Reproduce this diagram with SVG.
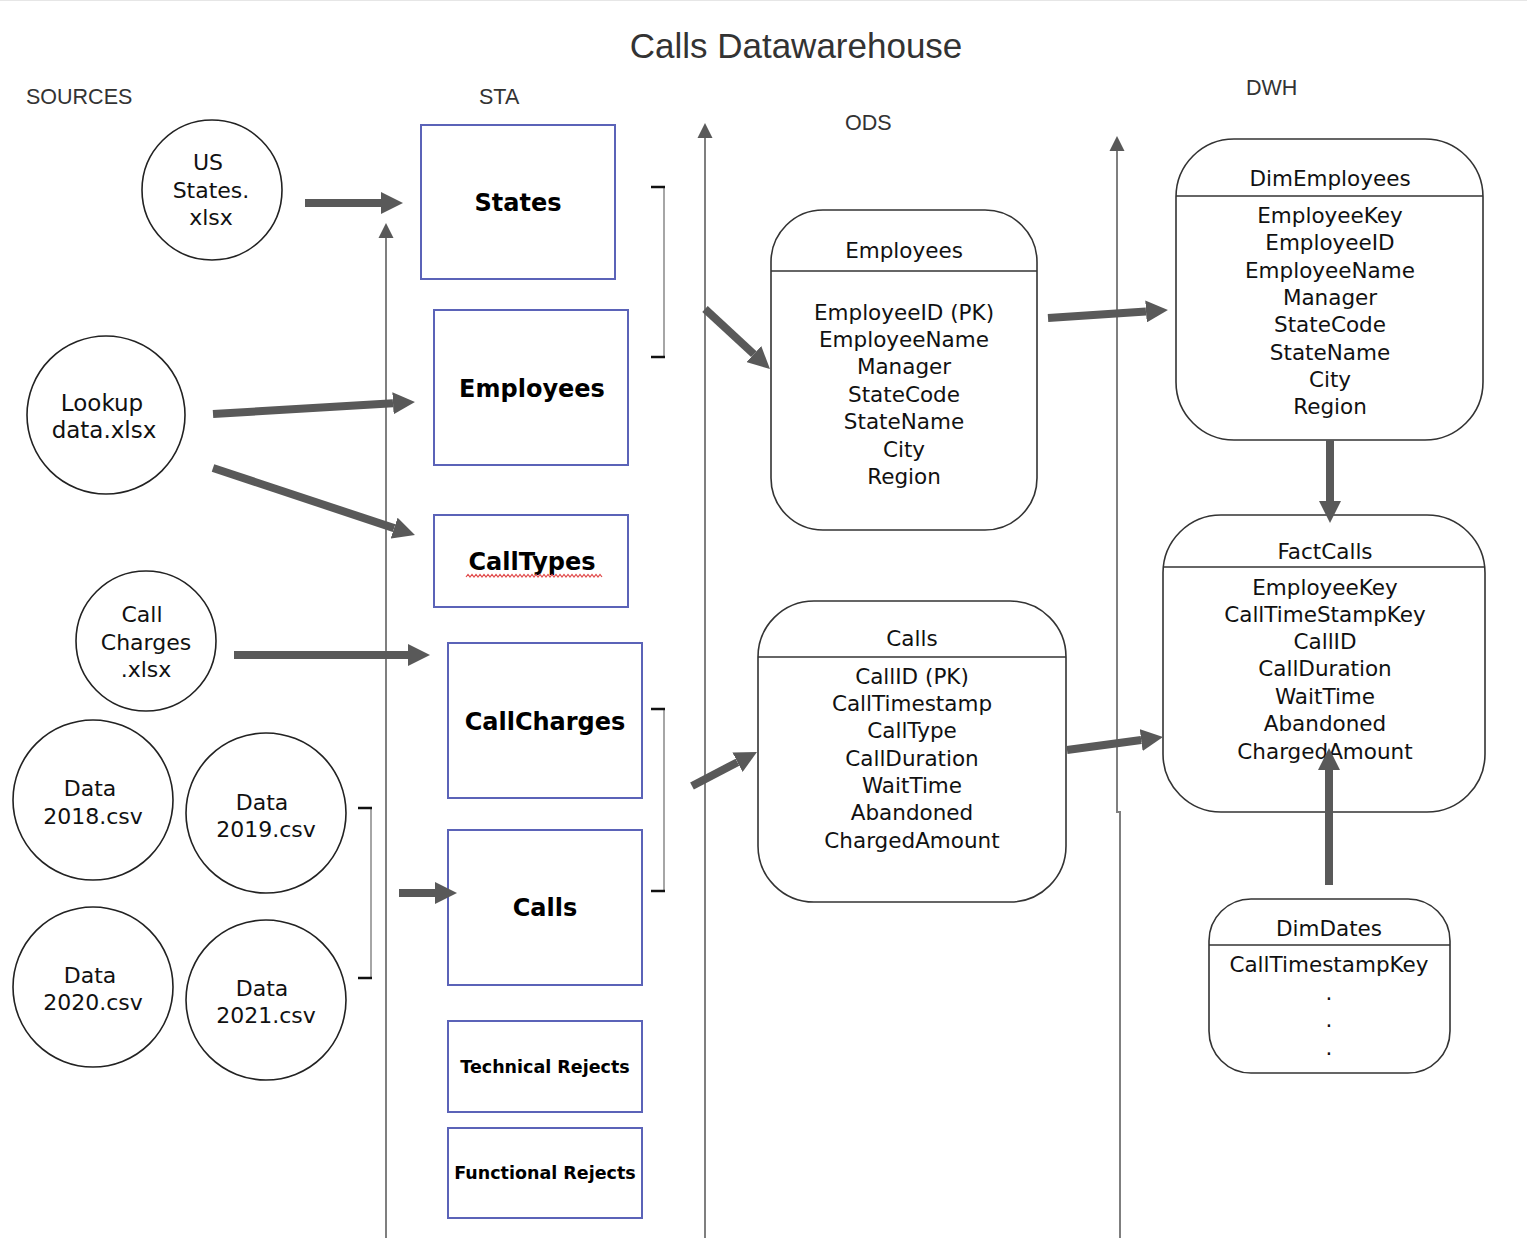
<svg xmlns="http://www.w3.org/2000/svg" width="1527" height="1238" viewBox="0 0 1527 1238">
<style>
.hdr{font-family:"Liberation Sans",Arial,sans-serif;font-size:21.5px;fill:#333}
.title{font-family:"Liberation Sans",Arial,sans-serif;font-size:35px;fill:#333}
.t{font-family:"DejaVu Sans",Verdana,sans-serif;font-size:21.5px;fill:#111;text-anchor:middle}
.ct{font-family:"DejaVu Sans",Verdana,sans-serif;font-size:22px;fill:#111;text-anchor:middle}
.b{font-family:"DejaVu Sans",Verdana,sans-serif;font-weight:bold;font-size:24px;fill:#000;text-anchor:middle}
.bs{font-family:"DejaVu Sans",Verdana,sans-serif;font-weight:bold;font-size:17.5px;fill:#000;text-anchor:middle}
.sta{fill:#fff;stroke:#5b63b8;stroke-width:2}
.circ{fill:#fff;stroke:#222;stroke-width:1.6}
.tbl{fill:#fff;stroke:#333;stroke-width:1.6}
.sep{stroke:#333;stroke-width:1.6}
.arr{stroke:#595959;stroke-width:8;fill:none;marker-end:url(#big)}
.lane{stroke:#7f7f7f;stroke-width:2;fill:none}
.lanea{stroke:#7f7f7f;stroke-width:2;fill:none;marker-end:url(#small)}
.brk{stroke:#888;stroke-width:1.5;fill:none}
.tick{stroke:#111;stroke-width:2.5}
</style>
<defs>
<marker id="big" markerUnits="userSpaceOnUse" viewBox="0 -11 22 22" refX="0" refY="0" markerWidth="22" markerHeight="22" orient="auto">
<path d="M0,-11 L22,0 L0,11 z" fill="#595959"/>
</marker>
<marker id="small" markerUnits="userSpaceOnUse" viewBox="0 -8 15 16" refX="0" refY="0" markerWidth="15" markerHeight="16" orient="auto">
<path d="M0,-7.5 L15,0 L0,7.5 z" fill="#595959"/>
</marker>
</defs>
<rect x="0" y="0" width="1527" height="1238" fill="#fff"/>
<line x1="0" y1="0.5" x2="1527" y2="0.5" stroke="#e6e6e6" stroke-width="1"/>

<g id="headers">
<text class="title" x="796" y="58" text-anchor="middle">Calls Datawarehouse</text>
<text class="hdr" x="26" y="104">SOURCES</text>
<text class="hdr" x="479" y="104">STA</text>
<text class="hdr" x="845" y="130">ODS</text>
<text class="hdr" x="1246" y="95">DWH</text>
</g>

<g id="src-usstates">
<circle class="circ" cx="212" cy="190" r="70"/>
<text class="ct" x="208" y="170">US</text>
<text class="ct" x="211" y="198">States.</text>
<text class="ct" x="211" y="225">xlsx</text>
</g>
<g id="src-lookup">
<circle class="circ" cx="106" cy="415" r="79"/>
<text class="ct" x="102" y="411" style="font-size:23px">Lookup</text>
<text class="ct" x="104" y="438" style="font-size:23px">data.xlsx</text>
</g>
<g id="src-callcharges">
<circle class="circ" cx="146" cy="641" r="70"/>
<text class="ct" x="142" y="622">Call</text>
<text class="ct" x="146" y="650">Charges</text>
<text class="ct" x="146" y="677">.xlsx</text>
</g>
<g id="src-data2018">
<circle class="circ" cx="93" cy="800" r="80"/>
<text class="ct" x="90" y="796">Data</text>
<text class="ct" x="93" y="824">2018.csv</text>
</g>
<g id="src-data2019">
<circle class="circ" cx="266" cy="813" r="80"/>
<text class="ct" x="262" y="810">Data</text>
<text class="ct" x="266" y="837">2019.csv</text>
</g>
<g id="src-data2020">
<circle class="circ" cx="93" cy="987" r="80"/>
<text class="ct" x="90" y="983">Data</text>
<text class="ct" x="93" y="1010">2020.csv</text>
</g>
<g id="src-data2021">
<circle class="circ" cx="266" cy="1000" r="80"/>
<text class="ct" x="262" y="996">Data</text>
<text class="ct" x="266" y="1023">2021.csv</text>
</g>

<g id="sta-states">
<rect class="sta" x="421" y="125" width="194" height="154"/>
<text class="b" x="518" y="211">States</text>
</g>
<g id="sta-employees">
<rect class="sta" x="434" y="310" width="194" height="155"/>
<text class="b" x="532" y="397">Employees</text>
</g>
<g id="sta-calltypes">
<rect class="sta" x="434" y="515" width="194" height="92"/>
<text class="b" x="532" y="570">CallTypes</text>
<path d="M466,577 l2,-2.5 l2,2.5 l2,-2.5 l2,2.5 l2,-2.5 l2,2.5 l2,-2.5 l2,2.5 l2,-2.5 l2,2.5 l2,-2.5 l2,2.5 l2,-2.5 l2,2.5 l2,-2.5 l2,2.5 l2,-2.5 l2,2.5 l2,-2.5 l2,2.5 l2,-2.5 l2,2.5 l2,-2.5 l2,2.5 l2,-2.5 l2,2.5 l2,-2.5 l2,2.5 l2,-2.5 l2,2.5 l2,-2.5 l2,2.5 l2,-2.5 l2,2.5 l2,-2.5 l2,2.5 l2,-2.5 l2,2.5 l2,-2.5 l2,2.5 l2,-2.5 l2,2.5 l2,-2.5 l2,2.5 l2,-2.5 l2,2.5 l2,-2.5 l2,2.5 l2,-2.5 l2,2.5 l2,-2.5 l2,2.5 l2,-2.5 l2,2.5 l2,-2.5 l2,2.5 l2,-2.5 l2,2.5 l2,-2.5 l2,2.5 l2,-2.5 l2,2.5 l2,-2.5 l2,2.5 l2,-2.5 l2,2.5 l2,-2.5 l2,2.5" fill="none" stroke="#e04848" stroke-width="1.2"/>
</g>
<g id="sta-callcharges">
<rect class="sta" x="448" y="643" width="194" height="155"/>
<text class="b" x="545" y="730">CallCharges</text>
</g>
<g id="sta-calls">
<rect class="sta" x="448" y="830" width="194" height="155"/>
<text class="b" x="545" y="916">Calls</text>
</g>
<g id="sta-techrejects">
<rect class="sta" x="448" y="1021" width="194" height="91"/>
<text class="bs" x="545" y="1073">Technical Rejects</text>
</g>
<g id="sta-funcrejects">
<rect class="sta" x="448" y="1128" width="194" height="90"/>
<text class="bs" x="545" y="1179">Functional Rejects</text>
</g>

<g id="ods-employees">
<rect class="tbl" x="771" y="210" width="266" height="320" rx="52" ry="52"/>
<line class="sep" x1="771" y1="271" x2="1037" y2="271"/>
<text class="t" x="904" y="258">Employees</text>
<text class="t" x="904" y="320">EmployeeID (PK)</text>
<text class="t" x="904" y="347">EmployeeName</text>
<text class="t" x="904" y="374">Manager</text>
<text class="t" x="904" y="402">StateCode</text>
<text class="t" x="904" y="429">StateName</text>
<text class="t" x="904" y="457">City</text>
<text class="t" x="904" y="484">Region</text>
</g>
<g id="ods-calls">
<rect class="tbl" x="758" y="601" width="308" height="301" rx="56" ry="56"/>
<line class="sep" x1="758" y1="657" x2="1066" y2="657"/>
<text class="t" x="912" y="646">Calls</text>
<text class="t" x="912" y="684">CallID (PK)</text>
<text class="t" x="912" y="711">CallTimestamp</text>
<text class="t" x="912" y="738">CallType</text>
<text class="t" x="912" y="766">CallDuration</text>
<text class="t" x="912" y="793">WaitTime</text>
<text class="t" x="912" y="820">Abandoned</text>
<text class="t" x="912" y="848">ChargedAmount</text>
</g>

<g id="dwh-dimemployees">
<rect class="tbl" x="1176" y="139" width="307" height="301" rx="58" ry="58"/>
<line class="sep" x1="1176" y1="196" x2="1483" y2="196"/>
<text class="t" x="1330" y="186">DimEmployees</text>
<text class="t" x="1330" y="223">EmployeeKey</text>
<text class="t" x="1330" y="250">EmployeeID</text>
<text class="t" x="1330" y="278">EmployeeName</text>
<text class="t" x="1330" y="305">Manager</text>
<text class="t" x="1330" y="332">StateCode</text>
<text class="t" x="1330" y="360">StateName</text>
<text class="t" x="1330" y="387">City</text>
<text class="t" x="1330" y="414">Region</text>
</g>
<g id="dwh-factcalls">
<rect class="tbl" x="1163" y="515" width="322" height="297" rx="58" ry="58"/>
<line class="sep" x1="1163" y1="567" x2="1485" y2="567"/>
<text class="t" x="1325" y="559">FactCalls</text>
<text class="t" x="1325" y="595">EmployeeKey</text>
<text class="t" x="1325" y="622">CallTimeStampKey</text>
<text class="t" x="1325" y="649">CallID</text>
<text class="t" x="1325" y="676">CallDuration</text>
<text class="t" x="1325" y="704">WaitTime</text>
<text class="t" x="1325" y="731">Abandoned</text>
<text class="t" x="1325" y="759">ChargedAmount</text>
</g>
<g id="dwh-dimdates">
<rect class="tbl" x="1209" y="899" width="241" height="174" rx="42" ry="42"/>
<line class="sep" x1="1209" y1="945" x2="1450" y2="945"/>
<text class="t" x="1329" y="936">DimDates</text>
<text class="t" x="1329" y="972">CallTimestampKey</text>
<text class="t" x="1329" y="1000">.</text>
<text class="t" x="1329" y="1027">.</text>
<text class="t" x="1329" y="1055">.</text>
</g>

<g id="connectors">
<line class="lanea" x1="386" y1="1238" x2="386" y2="238"/>
<line class="lanea" x1="705" y1="1238" x2="705" y2="138"/>
<polyline class="lane" points="1120,1238 1120,812 1117,812 1117,160"/>
<line class="lanea" x1="1117" y1="200" x2="1117" y2="151"/>
<polyline class="brk" points="664,187 664,357"/>
<line class="tick" x1="651" y1="187" x2="665" y2="187"/>
<line class="tick" x1="651" y1="357" x2="665" y2="357"/>
<polyline class="brk" points="664,709 664,891"/>
<line class="tick" x1="651" y1="709" x2="665" y2="709"/>
<line class="tick" x1="651" y1="891" x2="665" y2="891"/>
<polyline class="brk" points="371,808 371,978"/>
<line class="tick" x1="358" y1="808" x2="372" y2="808"/>
<line class="tick" x1="358" y1="978" x2="372" y2="978"/>
<line class="arr" x1="305" y1="203" x2="381" y2="203"/>
<line class="arr" x1="213" y1="414" x2="393" y2="403.3"/>
<line class="arr" x1="213" y1="468" x2="394.1" y2="528.1"/>
<line class="arr" x1="234" y1="655" x2="408" y2="655"/>
<line class="arr" x1="399" y1="893" x2="435" y2="893"/>
<line class="arr" x1="705" y1="309" x2="753.8" y2="354.1"/>
<line class="arr" x1="1048" y1="318" x2="1146" y2="311.5"/>
<line class="arr" x1="692" y1="786" x2="737.5" y2="762.2"/>
<line class="arr" x1="1067" y1="750" x2="1141.2" y2="740"/>
<line class="arr" x1="1330" y1="440" x2="1330" y2="501"/>
<line class="arr" x1="1329" y1="885" x2="1329" y2="770"/>
</g>
</svg>
